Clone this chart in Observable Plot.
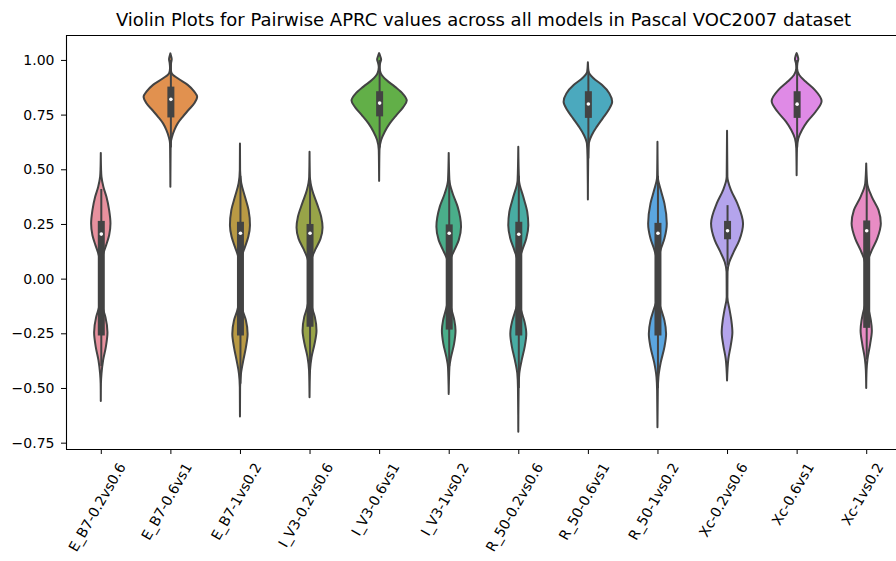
<!DOCTYPE html>
<html><head><meta charset="utf-8">
<script src="https://cdn.jsdelivr.net/npm/d3@7"></script>
<script src="https://cdn.jsdelivr.net/npm/@observablehq/plot@0.6"></script>
<style>
html,body{margin:0;padding:0;background:#fff;overflow:hidden;}
#title{box-sizing:border-box;height:30px;padding-top:11px;margin-left:66px;width:835px;text-align:center;font-family:"DejaVu Sans";font-size:18px;line-height:1;white-space:nowrap;color:#000;}
</style></head><body>
<div id="title">Violin Plots for Pairwise APRC values across all models in Pascal VOC2007 dataset</div>
<div id="chart"></div>
<script>
const categories = ["E_B7-0.2vs0.6","E_B7-0.6vs1","E_B7-1vs0.2","I_V3-0.2vs0.6","I_V3-0.6vs1","I_V3-1vs0.2","R_50-0.2vs0.6","R_50-0.6vs1","R_50-1vs0.2","Xc-0.2vs0.6","Xc-0.6vs1","Xc-1vs0.2"];
const colors = ["#e8919e","#e1914f","#b99a44","#98a448","#62af48","#4aae8a","#48aca3","#4ba9be","#5ba6e0","#b4a4ec","#df8ae6","#e88cc4"];
const yTicks = [-0.75,-0.5,-0.25,0,0.25,0.5,0.75,1.0];

// density profiles: [value, half-width (in category units)]
const pE_B7_02 = [[0.575,0],[0.50,0.004],[0.465,0.01],[0.419,0.038],[0.374,0.081],[0.313,0.12],[0.252,0.139],[0.198,0.12],[0.153,0.077],[0.107,0.029],[0.069,0.01],[-0.008,0.002],[-0.084,0.005],[-0.13,0.024],[-0.176,0.067],[-0.245,0.096],[-0.313,0.072],[-0.374,0.033],[-0.435,0.01],[-0.481,0.002],[-0.56,0]];
const pE_B7_06 = [[1.03,0],[1.018,0.01],[1.003,0.019],[0.985,0.01],[0.962,0.005],[0.939,0.019],[0.916,0.105],[0.886,0.249],[0.855,0.344],[0.832,0.385],[0.802,0.344],[0.771,0.26],[0.740,0.177],[0.710,0.105],[0.679,0.057],[0.649,0.024],[0.618,0.005],[0.527,0.002],[0.42,0]];
const pE_B7_1 = [[0.618,0],[0.497,0.002],[0.436,0.019],[0.374,0.072],[0.313,0.124],[0.244,0.144],[0.191,0.12],[0.145,0.072],[0.099,0.024],[0.053,0.005],[-0.084,0.005],[-0.145,0.038],[-0.191,0.086],[-0.252,0.11],[-0.313,0.086],[-0.374,0.048],[-0.435,0.014],[-0.496,0.002],[-0.63,0]];
const pI_V3_02 = [[0.58,0],[0.466,0.005],[0.405,0.038],[0.344,0.105],[0.283,0.167],[0.234,0.187],[0.183,0.158],[0.138,0.091],[0.092,0.029],[0.053,0.007],[-0.069,0.005],[-0.13,0.033],[-0.176,0.077],[-0.237,0.1],[-0.298,0.072],[-0.359,0.029],[-0.42,0.007],[-0.542,0]];
const pI_V3_06 = [[1.031,0],[1.019,0.014],[1.003,0.029],[0.985,0.014],[0.967,0.005],[0.939,0.024],[0.908,0.105],[0.878,0.225],[0.844,0.344],[0.814,0.397],[0.783,0.344],[0.748,0.249],[0.710,0.153],[0.672,0.081],[0.634,0.029],[0.588,0.005],[0.447,0]];
const pI_V3_1 = [[0.575,0],[0.45,0.01],[0.389,0.057],[0.328,0.129],[0.237,0.177],[0.176,0.144],[0.130,0.081],[0.084,0.019],[0.038,0.005],[-0.084,0.005],[-0.145,0.043],[-0.191,0.081],[-0.237,0.098],[-0.298,0.077],[-0.359,0.033],[-0.405,0.01],[-0.527,0]];
const pR_50_02 = [[0.603,0],[0.45,0.01],[0.374,0.072],[0.305,0.129],[0.244,0.144],[0.183,0.115],[0.130,0.057],[0.084,0.014],[0.038,0.005],[-0.099,0.005],[-0.153,0.048],[-0.199,0.091],[-0.252,0.115],[-0.313,0.091],[-0.374,0.048],[-0.435,0.014],[-0.496,0.005],[-0.70,0]];
const pR_50_06 = [[0.989,0],[0.946,0.01],[0.916,0.081],[0.886,0.201],[0.847,0.309],[0.809,0.349],[0.771,0.297],[0.733,0.213],[0.695,0.129],[0.657,0.057],[0.618,0.014],[0.557,0.005],[0.362,0]];
const pR_50_1 = [[0.626,0],[0.466,0.005],[0.405,0.048],[0.344,0.1],[0.252,0.134],[0.183,0.1],[0.130,0.043],[0.084,0.01],[-0.084,0.005],[-0.145,0.057],[-0.191,0.1],[-0.252,0.124],[-0.313,0.1],[-0.382,0.048],[-0.45,0.014],[-0.511,0.005],[-0.68,0]];
const pXc_02 = [[0.676,0],[0.466,0.005],[0.405,0.057],[0.344,0.148],[0.252,0.23],[0.176,0.177],[0.122,0.096],[0.076,0.033],[0.031,0.007],[-0.084,0.005],[-0.145,0.038],[-0.191,0.062],[-0.245,0.077],[-0.306,0.053],[-0.367,0.019],[-0.466,0]];
const pXc_06 = [[1.031,0],[1.019,0.014],[1.003,0.024],[0.985,0.01],[0.962,0.005],[0.931,0.038],[0.901,0.129],[0.863,0.261],[0.812,0.359],[0.763,0.273],[0.718,0.153],[0.680,0.077],[0.641,0.024],[0.596,0.005],[0.473,0]];
const pXc_1 = [[0.527,0],[0.436,0.014],[0.374,0.081],[0.313,0.177],[0.252,0.21],[0.183,0.158],[0.130,0.081],[0.084,0.024],[0.038,0.005],[-0.099,0.005],[-0.153,0.043],[-0.191,0.067],[-0.237,0.081],[-0.298,0.057],[-0.367,0.019],[-0.42,0.005],[-0.5,0]];

// inner box statistics
const q1 = [-0.26,0.737,-0.26,-0.22,0.742,-0.233,-0.26,0.735,-0.26,0.18,0.735,-0.225];
const q3 = [0.264,0.878,0.26,0.25,0.857,0.248,0.26,0.857,0.255,0.264,0.857,0.266];
const medians = [0.206,0.822,0.21,0.21,0.805,0.21,0.205,0.801,0.21,0.221,0.80,0.221];
const whiskerLo = [-0.40,0.60,-0.48,-0.40,0.60,-0.40,-0.50,0.55,-0.50,0.06,0.60,-0.37];
const whiskerHi = [0.41,1.00,0.47,0.45,1.00,0.45,0.47,0.95,0.47,0.336,1.00,0.44];

const profiles = [pE_B7_02,pE_B7_06,pE_B7_1,pI_V3_02,pI_V3_06,pI_V3_1,pR_50_02,pR_50_06,pR_50_1,pXc_02,pXc_06,pXc_1];
const dark = "#434343";
const FS = 14;

const violinMarks = profiles.map((p, i) => Plot.areaX(p, {
  y: d => d[0], x1: d => i - d[1], x2: d => i + d[1],
  fill: colors[i], stroke: dark, strokeWidth: 2, curve: "monotone-y"
}));

const idx = d3.range(categories.length);
const boxRows = idx.map(i => ({i, q1: q1[i], q3: q3[i], med: medians[i], lo: whiskerLo[i], hi: whiskerHi[i]}));

const ctx = document.createElement("canvas").getContext("2d");
ctx.font = `${FS}px "DejaVu Sans"`;
const labelMarks = categories.map((c, i) => Plot.text([c], {
  x: [i], text: d => d, frameAnchor: "bottom", rotate: -60, textAnchor: "end",
  dy: 17, dx: ctx.measureText(c).width / 4, fontSize: FS, fill: "#000"
}));

const yTop = 1.114, yBot = -0.779;
const chart = Plot.plot({
  width: 896, height: 531,
  marginLeft: 66, marginRight: 0, marginTop: 5, marginBottom: 112,
  style: {fontFamily: "DejaVu Sans", fontSize: FS + "px", color: "#000", background: "#fff"},
  x: {domain: [-0.5, 11.5 - 5 / 69.58], axis: null},
  y: {domain: [yBot, yTop], axis: null},
  marks: [
    ...violinMarks,
    Plot.ruleX(boxRows, {x: "i", y1: "lo", y2: "hi", stroke: dark, strokeWidth: 2}),
    Plot.ruleX(boxRows, {x: "i", y1: "q1", y2: "q3", stroke: dark, strokeWidth: 7}),
    Plot.dot(boxRows, {x: "i", y: "med", r: 1.8, fill: "#fff", stroke: null}),
    Plot.ruleX([-0.5], {stroke: "#000", strokeWidth: 1.1}),
    Plot.ruleY([yTop, yBot], {stroke: "#000", strokeWidth: 1.1}),
    Plot.axisY({ticks: yTicks, tickFormat: d3.format(".2f"), tickSize: 5, tickPadding: 7, label: null, fontSize: FS}),
    Plot.axisX({ticks: idx, tickFormat: () => "", tickSize: 5, label: null}),
    ...labelMarks
  ]
});
document.getElementById("chart").appendChild(chart);
</script>
</body></html>
